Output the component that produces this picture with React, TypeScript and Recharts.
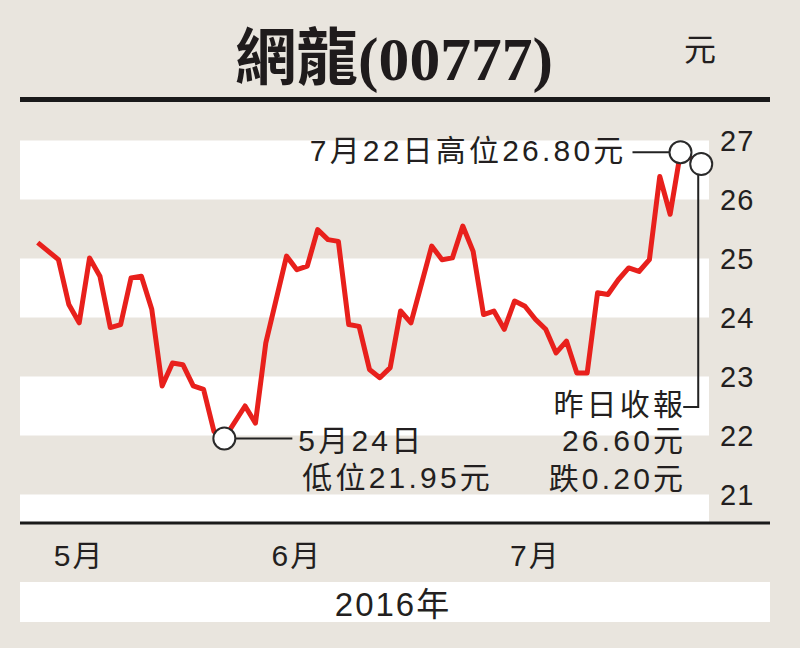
import React from 'react';
import { LineChart, Line, XAxis, YAxis, ReferenceArea, ReferenceDot } from 'recharts';

// trading-day index (from late April 2016) and closing price (HK$)
const days = [0, 2, 3, 4, 5, 6, 7, 8, 9, 10, 11, 12, 13, 14, 15, 16, 17, 18, 20, 21, 22, 24, 25, 26, 27, 28, 29, 30, 31, 32, 33, 34, 35, 36, 38, 39, 40, 41, 42, 43, 44, 45, 46, 47, 48, 49, 50, 51, 52, 53, 54, 55, 56, 57, 58, 59, 60, 61, 62, 64];
const prices = [25.27, 24.98, 24.22, 23.91, 25.01, 24.70, 23.83, 23.88, 24.67, 24.70, 24.14, 22.84, 23.23, 23.20, 22.84, 22.78, 22.07, 21.95, 22.50, 22.21, 23.57, 25.04, 24.81, 24.87, 25.49, 25.32, 25.29, 23.88, 23.85, 23.12, 22.98, 23.15, 24.11, 23.91, 25.21, 24.98, 25.01, 25.55, 25.12, 24.05, 24.11, 23.80, 24.28, 24.19, 23.97, 23.80, 23.40, 23.60, 23.06, 23.06, 24.42, 24.39, 24.64, 24.84, 24.78, 24.98, 26.39, 25.75, 26.80, 26.60];

const monthTicks = [4, 25, 48];
const monthLabels = ['5月', '6月', '7月'];
const yTicks = [21, 22, 23, 24, 25, 26, 27];
const whiteBands = [[26, 27], [24, 25], [22, 23], [20.5, 21]];

const lowPoint = { t: 18, p: 21.95 };
const highPoint = { t: 62, p: 26.8 };
const closePoint = { t: 64, p: 26.6 };

const title = '網龍(00777)';
const unit = '元';
const yearLabel = '2016年';
const lowText = ['5月24日', '低位21.95元'];
const highText = '7月22日高位26.80元';
const closeText = ['昨日收報', '26.60元', '跌0.20元'];

const data = days.map((t, i) => ({ t, p: prices[i] }));

const BG = '#e9e5de';
const RED = '#e8201c';
const INK = '#231f20';
const FONT = '"Liberation Sans", "Noto Sans CJK TC", sans-serif';

const txt = { fontFamily: FONT, fontSize: 30, letterSpacing: 3.2, fill: INK } as const;

const MonthTick = (props: any) => {
  const { x, y, payload } = props;
  const i = monthTicks.indexOf(payload.value);
  return (
    <text x={x} y={y + 34} textAnchor="middle" fontFamily={FONT} fontSize={30} letterSpacing={2} fill={INK}>
      {monthLabels[i]}
    </text>
  );
};

const YTick = (props: any) => {
  const { x, y, payload } = props;
  return (
    <text x={x + 3} y={y + 10} textAnchor="start" fontFamily={FONT} fontSize={29} letterSpacing={1} fill={INK}>
      {payload.value}
    </text>
  );
};

const Ring = ({ cx, cy }: { cx: number; cy: number }) => (
  <circle cx={cx} cy={cy} r={11} fill="#fff" stroke="#2a2a2a" strokeWidth={2} />
);

const LowShape = (props: any) => {
  const { cx, cy } = props;
  return (
    <g>
      <line x1={cx + 11} y1={cy} x2={cx + 68} y2={cy} stroke="#222" strokeWidth={2} />
      <Ring cx={cx} cy={cy} />
      <text x={cx + 74} y={cy + 13} {...txt}>{lowText[0]}</text>
      <text x={cx + 78} y={cy + 50} {...txt}>{lowText[1]}</text>
    </g>
  );
};

const HighShape = (props: any) => {
  const { cx, cy } = props;
  return (
    <g>
      <line x1={cx - 11} y1={cy} x2={cx - 48} y2={cy} stroke="#222" strokeWidth={2} />
      <Ring cx={cx} cy={cy} />
      <text x={cx - 54} y={cy + 9} textAnchor="end" {...txt}>{highText}</text>
    </g>
  );
};

const CloseShape = (props: any) => {
  const { cx, cy } = props;
  return (
    <g>
      <polyline
        points={`${cx - 3},${cy + 11} ${cx - 3},${cy + 243} ${cx - 18},${cy + 243}`}
        fill="none"
        stroke="#222"
        strokeWidth={2}
      />
      <Ring cx={cx} cy={cy} />
      <text x={cx - 15} y={cy + 251} textAnchor="end" {...txt}>{closeText[0]}</text>
      <text x={cx - 15} y={cy + 287} textAnchor="end" {...txt}>{closeText[1]}</text>
      <text x={cx - 15} y={cy + 325} textAnchor="end" {...txt}>{closeText[2]}</text>
    </g>
  );
};

export default function App() {
  return (
    <div style={{ position: 'absolute', left: 0, top: 0, width: 800, height: 648, background: BG, overflow: 'hidden' }}>
      <LineChart width={800} height={648} data={data} margin={{ top: 111, right: 0, left: 20, bottom: 0 }}>
        <XAxis
          type="number"
          dataKey="t"
          domain={[-1.71, 64.75]}
          allowDataOverflow
          ticks={monthTicks}
          interval={0}
          height={124}
          axisLine={false}
          tickLine={false}
          tick={<MonthTick />}
        />
        <YAxis
          orientation="right"
          domain={[20.5, 27.5]}
          allowDataOverflow
          ticks={yTicks}
          interval={0}
          width={91}
          axisLine={false}
          tickLine={false}
          tick={<YTick />}
        />
        {whiteBands.map((b, i) => (
          <ReferenceArea key={i} y1={b[0]} y2={b[1]} fill="#ffffff" fillOpacity={1} stroke="none" />
        ))}
        <Line
          type="linear"
          dataKey="p"
          stroke={RED}
          strokeWidth={5}
          strokeLinejoin="round"
          dot={false}
          activeDot={false}
          isAnimationActive={false}
        />
        <ReferenceDot x={lowPoint.t} y={lowPoint.p} r={11} shape={LowShape} />
        <ReferenceDot x={highPoint.t} y={highPoint.p} r={11} shape={HighShape} />
        <ReferenceDot x={closePoint.t} y={closePoint.p} r={11} shape={CloseShape} />
      </LineChart>
      <svg width={800} height={648} style={{ position: 'absolute', left: 0, top: 0, pointerEvents: 'none' }}>
        <text
          x={394}
          y={80}
          textAnchor="middle"
          fontFamily='"Liberation Serif", "Noto Sans CJK TC", serif'
          fontWeight={700}
          fontSize={62}
          textLength={318}
          lengthAdjust="spacingAndGlyphs"
          fill="#1f1b1c"
        >
          {title}
        </text>
        <text x={700} y={61} textAnchor="middle" fontFamily={FONT} fontSize={32} fill={INK}>{unit}</text>
        <rect x={20} y={97} width={750} height={5} fill="#1a1a1a" />
        <rect x={20} y={521.5} width={750} height={3} fill="#1a1a1a" />
        <rect x={20} y={582} width={750} height={40} fill="#ffffff" />
        <text x={393} y={616} textAnchor="middle" fontFamily={FONT} fontSize={33} letterSpacing={2} fill={INK}>{yearLabel}</text>
      </svg>
    </div>
  );
}
